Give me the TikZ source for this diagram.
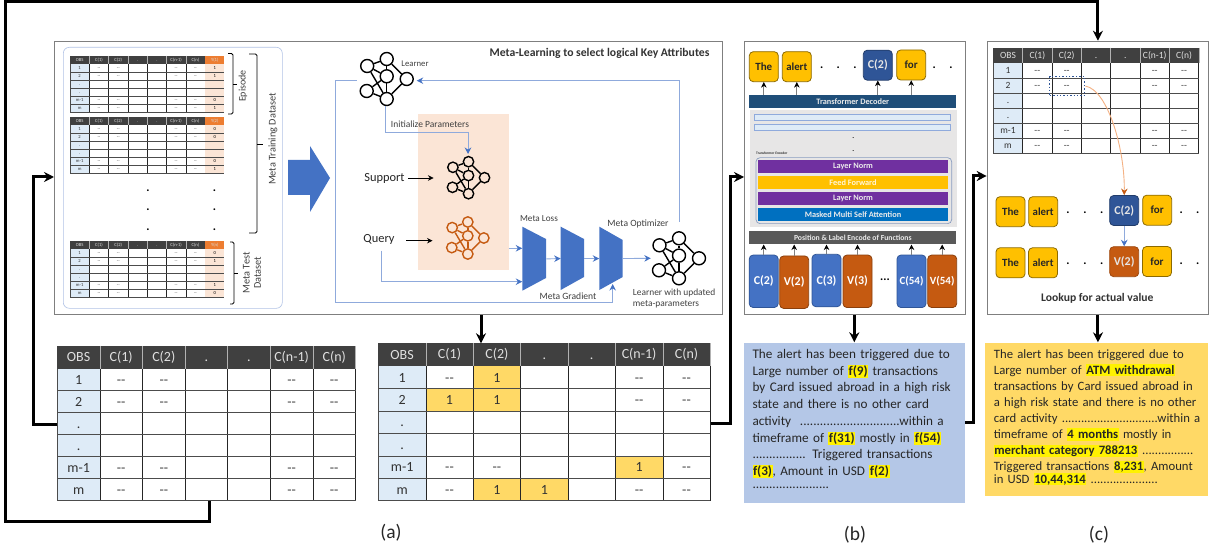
\documentclass[tikz,border=0pt]{standalone}
\usepackage{fontspec}
\setmainfont{Carlito}
\usetikzlibrary{arrows.meta,calc}
\definecolor{hdr}{HTML}{404040}
\definecolor{cellblue}{HTML}{DEEBF7}
\definecolor{cellgold}{HTML}{FFD966}
\definecolor{peach}{HTML}{FBE5D6}
\definecolor{blueA}{HTML}{4472C4}
\definecolor{blueL}{HTML}{8FAADC}
\definecolor{blueD}{HTML}{2F5597}
\definecolor{orangeD}{HTML}{C55A11}
\definecolor{orangeH}{HTML}{ED7D31}
\definecolor{orangeL}{HTML}{F4B183}
\definecolor{wordgold}{HTML}{FFC000}
\definecolor{boxgray}{HTML}{7F7F7F}
\definecolor{decblue}{HTML}{1F4E79}
\definecolor{purp}{HTML}{7030A0}
\definecolor{attn}{HTML}{0070C0}
\definecolor{midgray}{HTML}{595959}
\definecolor{panelgray}{HTML}{E7E6E6}
\definecolor{sumblue}{HTML}{B4C7E7}
\newcommand\fs[1]{\fontsize{#1}{#1}\selectfont}
\newcommand\hl[1]{\smash{\setlength\fboxsep{0.5pt}\colorbox{yellow}{\vphantom{(}\textbf{#1}}}}
\tikzset{
  panel/.style={draw=boxgray,line width=0.9pt,fill=white,inner sep=0pt,anchor=north west},
  flow/.style={line width=3pt,draw=black,-{Stealth[length=10pt,width=10pt]}},
  thin blue/.style={line width=0.9pt,draw=blueL,-{Stealth[length=6.5pt,width=6.5pt,color=blueA]}},
  thin black/.style={line width=0.7pt,draw=black,-{Stealth[length=5.5pt,width=5.5pt]}},
  up arrow/.style={line width=0.8pt,draw=gray,-{Stealth[length=5.5pt,width=5.5pt,color=black]}},
  word/.style={rounded corners=4pt,fill=wordgold,draw=black!45!wordgold,line width=0.8pt,minimum width=29pt,minimum height=30pt,inner sep=0pt,font=\fs{11}\bfseries,text=black!85},
  wordblue/.style={word,fill=blueD,draw=blueD!70!black,text=white!90!black,font=\fs{12}\bfseries},
  wordorange/.style={word,fill=orangeD,draw=orangeD!80!black,text=white!90!black,font=\fs{12}\bfseries},
  tallblue/.style={word,fill=blueA,draw=blueD,minimum height=52.5pt,text=white,font=\fs{12}\bfseries},
  tallorange/.style={word,fill=orangeD,draw=orangeD!70!black,minimum height=52.5pt,text=white,font=\fs{12}\bfseries},
  barbox/.style={inner sep=0pt,text=white!92!black,font=\fs{8.3}\bfseries},
  dotmark/.style={inner sep=0pt,font=\fs{12}\bfseries},
  label/.style={inner sep=0pt,text=black!75},
  body/.style={inner sep=0pt,anchor=north west,align=left,text=black!85},
  hub/.style={circle,draw=#1,line width=1.4pt,inner sep=0pt},
  link/.style={draw=#1,line width=1.4pt},
}
% name x0 y0 colw headh rowh font size, list of gold cells col/row
\newcommand\datatable[8]{%
  \foreach \c/\r in {#8}{\expandafter\gdef\csname hl@#1@\c @\r\endcsname{}}%
  \fill[hdr] (#2,#3) rectangle ++({7*#4},#5);
  \fill[cellblue] (#2,{#3+#5}) rectangle ++(#4,{6*#6});
  \foreach \c/\r in {#8}{\fill[cellgold] ({#2+\c*#4},{#3+#5+(\r-1)*#6}) rectangle ++(#4,#6);}
  \foreach \c in {1,...,7}{\draw[line width=0.6pt,black!85] ({#2+\c*#4},{#3+#5}) -- ++(0,{6*#6});
    \draw[line width=0.5pt,white!70!black] ({#2+\c*#4},#3) -- ++(0,#5);}
  \draw[line width=0.6pt,black!70] (#2,{#3+#5}) -- ++(0,{6*#6});
  \foreach \r in {1,...,6}{\draw[line width=0.8pt,black!70] (#2,{#3+#5+\r*#6}) -- ++({7*#4},0);}
  \foreach \t [count=\i from 0] in {OBS,C(1),C(2),.,.,C(n-1),C(n)}{
    \node[inner sep=0pt,text=white!88!black,font=\fs{#7}] (#1-h\i) at ({#2+(\i+.5)*#4},{#3+.5*#5}) {\vphantom{C}\t};}
  \foreach \t [count=\i from 1] in {1,2,.,.,m-1,m}{
    \node[inner sep=0pt,text=black!80,font=\fs{#7}] (#1-r\i) at ({#2+.5*#4},{#3+#5+(\i-.5)*#6}) {\vphantom{1}\t};}
  \foreach \r in {1,2,5,6}{\foreach \c in {1,2,5,6}{
    \ifcsname hl@#1@\c @\r\endcsname\else
    \node[inner sep=0pt,text=black!75,font=\fs{#7}] (#1-d\c-\r) at ({#2+(\c+.5)*#4},{#3+#5+(\r-.5)*#6}) {\vphantom{1}-{}-};\fi}}
  \foreach \c/\r in {#8}{
    \node[inner sep=0pt,text=black!80,font=\fs{#7}] (#1-g\c-\r) at ({#2+(\c+.5)*#4},{#3+#5+(\r-.5)*#6}) {1};}
  \node[inner sep=0pt,minimum width={7*#4},minimum height={#5+6*#6},anchor=north west] (#1) at (#2,#3) {};
}
% name x0 y0 ylabel v1 v2 v5 v6
\newcommand\minitable[8]{%
  \datatable{#1}{#2}{#3}{19.3}{8.3}{8.0}{4.6}{}
  \fill[orangeH] ({#2+7*19.3},#3) rectangle ++(19.3,8.3);
  \fill[peach] ({#2+7*19.3},{#3+8.3}) rectangle ++(19.3,48);
  \foreach \r in {1,...,6}{\draw[line width=0.7pt,black!70] ({#2+7*19.3},{#3+8.3+\r*8}) -- ++(19.3,0);}
  \node[inner sep=0pt,text=white!85!black,font=\fs{4.6}] (#1-y) at ({#2+7.5*19.3},{#3+4.15}) {#4};
  \node[inner sep=0pt,font=\fs{4.6}] (#1-y1) at ({#2+7.5*19.3},{#3+8.3+4}) {#5};
  \node[inner sep=0pt,font=\fs{4.6}] (#1-y2) at ({#2+7.5*19.3},{#3+8.3+12}) {#6};
  \node[inner sep=0pt,font=\fs{4.6}] (#1-y5) at ({#2+7.5*19.3},{#3+8.3+36}) {#7};
  \node[inner sep=0pt,font=\fs{4.6}] (#1-y6) at ({#2+7.5*19.3},{#3+8.3+44}) {#8};
}
% name cx cy scale colour
\newcommand\netw[5]{%
  \foreach \n/\dx/\dy in {a/-18.5/-13,b/1/-20,c/21/0,d/1/-2.7,e/-19/12,f/1/20}{
    \node[hub=#5,minimum size={13*#4}] (#1-\n) at ({#2+\dx*#4},{#3+\dy*#4}) {};}
  \foreach \p/\q in {a/b,b/c,b/d,a/d,a/f,e/d,e/f,d/f,c/f}{\draw[link=#5] (#1-\p) -- (#1-\q);}
  \node[inner sep=0pt,minimum width={54*#4},minimum height={54*#4}] (#1) at (#2,#3) {};
}
% name x0 x1 ytopL ybotL ytopR ybotR
\newcommand\trap[7]{%
  \fill[blueA] (#2,#4) -- (#3,#6) -- (#3,#7) -- (#2,#5) -- cycle;
  \node[inner sep=0pt,minimum width={#3-#2},minimum height={#5-#4},anchor=north west] (#1) at (#2,#4) {};
}
\begin{document}
\begin{tikzpicture}[x=1pt,y=-1pt]
\useasboundingbox (0,0) rectangle (1214,553);
\fill[white] (0,0) rectangle (1214,553);

%% ---- panel (a)
\node[panel,minimum width=668,minimum height=273] (boxA) at (54,41) {};
\node[anchor=north west,inner sep=0pt,minimum width=219,minimum height=261,draw=blueL!70,rounded corners=6pt,line width=0.6pt] (inner) at (63,47) {};
\minitable{m1}{70}{55.7}{Y(1)}{1}{1}{0}{1}
\minitable{m2}{70}{116.7}{Y(2)}{0}{0}{0}{1}
\minitable{m3}{70}{241}{Y(n)}{0}{1}{1}{0}
\foreach \y [count=\i] in {191,210,230}{
  \node[dotmark] (da\i) at (148,\y) {.};
  \node[dotmark] (db\i) at (214.5,\y) {.};}
\draw[line width=0.9pt,rounded corners=1.5pt] (228,53.5) -- (233,53.5) -- (233,114) -- (228,114);
\draw[line width=0.9pt] (233,84) -- (237,84);
\node[label,rotate=90,font=\fs{10}] (lepi) at (243,86) {Episode};
\draw[line width=0.9pt,rounded corners=1.5pt] (249,54) -- (257,54) -- (257,233) -- (249,233);
\draw[line width=0.9pt] (257,144) -- (263,144);
\node[label,rotate=90,font=\fs{10.3}] (lmtd) at (273,139) {Meta Training Dataset};
\draw[line width=0.9pt,rounded corners=1.5pt] (230,242) -- (234,242) -- (234,304) -- (230,304);
\draw[line width=0.9pt] (234,273) -- (238,273);
\node[label,rotate=90,font=\fs{10.3},align=center] (lmte) at (252,273) {Meta Test\\[1pt]Dataset};

\fill[blueA] (288,160) -- (310,160) -- (310,146) -- (330,178) -- (310,212) -- (310,195) -- (288,195) -- cycle;

\node[inner sep=0pt,fill=peach,minimum width=90.3,minimum height=155,anchor=north west] (peachbox) at (418,114.3) {};
\node[inner sep=0pt,font=\fs{11.7}\bfseries,text=black!80] (title) at (599.5,53) {Meta-Learning to select logical Key Attributes};
\netw{learner}{385.7}{79}{1}{black}
\netw{support}{467.7}{177.7}{0.8}{black}
\netw{query}{467}{238}{0.8}{orangeD}
\netw{final}{678}{258.3}{1}{black}
\node[label,font=\fs{8.7}] (llearn) at (415,64) {Learner};
\node[label,font=\fs{9.5}] (linit) at (430,124) {Initialize Parameters};
\node[label,font=\fs{12.4},text=black!85] (lsup) at (384.5,178) {Support};
\node[label,font=\fs{12.4},text=black!85] (lqry) at (379,239) {Query};
\coordinate (supend) at (433.5,178);
\coordinate (qryend) at (432.5,240.7);
\draw[thin black] (408.3,178) -- (supend);
\draw[thin black] (406,240.7) -- (qryend);
\trap{t1}{522.3}{546}{226.7}{290.7}{239}{278}
\trap{t2}{560.7}{584}{226.7}{290}{239}{277}
\trap{t3}{599.3}{622.7}{226.7}{290}{240}{277}
\node[label,font=\fs{9.2}] (lloss) at (539,219) {Meta Loss};
\node[label,font=\fs{9.6}] (lopt) at (638,224) {Meta Optimizer};
\node[label,font=\fs{9.6}] (lgrad) at (568,296.5) {Meta Gradient};
\node[label,font=\fs{9.4},align=left,anchor=west] (lupd) at (632.7,298.8) {Learner with updated\\[1.5pt]meta-parameters};
% blue connectors
\coordinate (lowL) at (335.7,302.7);
\coordinate (t3in) at (612.7,284);
\draw[thin blue] (356.7,80.7) -- (lowL |- 0,80.7) -- (lowL) -- (t3in |- lowL) -- (t3in);
\draw[thin blue] (679.3,221.7) -- (679.3,80.7) -- (416.7,80.7);
\draw[thin blue] (learner.south) -- (385.7,132) -- (468,132) -- (468,154);
\draw[thin blue] (peachbox.east |- 0,248.3) -- (t1.west |- 0,248.3);
\draw[thin blue] (381.7,250.7) -- (381.7,281.7) -- (t1.west |- 0,281.7);
\draw[thin blue] (t1.east) -- (t2.west);
\draw[thin blue] (t2.east) -- (t3.west);
\draw[thin blue] (t3.east) -- (final.west);

\datatable{tA}{57.3}{346}{42.6}{22.7}{22}{14}{}
\datatable{tB}{378.4}{343.3}{47.4}{23}{22.4}{14}{2/1,1/2,2/2,5/5,2/6,3/6}
\node[font=\fs{19.5},inner sep=0pt,text=black!85] (capa) at (391,533) {(a)};

%% ---- panel (b)
\node[panel,minimum width=221,minimum height=273.6] (boxB) at (744,40.7) {};
\node[word] (w1) at (763.8,66.7) {The};
\node[word,font=\fs{10.8}\bfseries] (w2) at (796.8,66.7) {alert};
\node[wordblue] (w3) at (877.8,65.2) {C(2)};
\node[word] (w4) at (911.2,65) {for};
\foreach \x [count=\i] in {821.7,838.3,855,934.3,951}{\node[dotmark] (wd\i) at (\x,67.5) {.};}
\node[barbox,fill=decblue,minimum width=207,minimum height=12.7] (dec) at (852.8,101.4) {Transformer Decoder};
\node[inner sep=0pt,fill=panelgray,minimum width=207,minimum height=116.7,anchor=north west] (graybox) at (749.3,110) {};
\node[inner sep=0pt,fill=cellblue,draw=blueL,line width=0.6pt,minimum width=196.4,minimum height=6.3] (lr1) at (852.5,117.5) {};
\node[inner sep=0pt,fill=cellblue,draw=blueL,line width=0.6pt,minimum width=196.4,minimum height=6] (lr2) at (852.5,127.7) {};
\node[dotmark,font=\fs{7}\bfseries] (gd1) at (853.3,138.3) {.};
\node[dotmark,font=\fs{7}\bfseries] (gd2) at (853.3,150.7) {.};
\node[inner sep=0pt,anchor=west,font=\fs{3.6}\bfseries,text=black!80] (lenc) at (756,153.3) {Transformer Encoder};
\node[inner sep=0pt,draw=blueL!70!gray,line width=0.7pt,rounded corners=4pt,minimum width=195.6,minimum height=66,anchor=north west] (encbox) at (755.7,157.3) {};
\node[barbox,fill=purp,minimum width=190.6,minimum height=12.7] (e1) at (853,166.3) {Layer Norm};
\node[barbox,fill=wordgold,text=white!85!wordgold,minimum width=190.6,minimum height=13] (e2) at (853,182.5) {Feed Forward};
\node[barbox,fill=purp,minimum width=190.6,minimum height=12.7] (e3) at (853,198.3) {Layer Norm};
\node[barbox,fill=attn,minimum width=190.6,minimum height=12.7] (e4) at (853,214.3) {Masked Multi Self Attention};
\node[barbox,fill=midgray,font=\fs{7.7}\bfseries,minimum width=207,minimum height=13.3] (pos) at (852.8,237.7) {Position \& Label Encode of Functions};
\node[tallblue] (b1) at (763.7,281.3) {C(2)};
\node[tallorange] (b2) at (794.2,282.2) {V(2)};
\node[tallblue] (b3) at (826.5,280.5) {C(3)};
\node[tallorange] (b4) at (857.5,281.3) {V(3)};
\node[inner sep=0pt,font=\fs{12}\bfseries] (bdots) at (885,280) {...};
\node[tallblue,font=\fs{11}\bfseries] (b5) at (911.5,281.3) {C(54)};
\node[tallorange,font=\fs{11}\bfseries] (b6) at (942.2,281.3) {V(54)};
\foreach \w in {w1,w2,w3,w4}{\draw[up arrow] (dec.north -| \w.south) -- (\w.south);}
\foreach \w in {b1,b2,b3,b4,b5,b6}{\draw[up arrow] (\w.north) -- (\w.north |- pos.south);}

\node[inner sep=0pt,fill=sumblue,minimum width=221.3,minimum height=160.4,anchor=north west] (textB) at (743.7,342.3) {};
\node[body,font=\fs{13.2},text width=240] (textBbody) at (752.3,349) {\baselineskip=16.75pt\lineskiplimit=-100pt
The alert has been triggered due to\\
Large number of \hl{f(9)} transactions\\
by Card issued abroad in a high risk\\
state and there is no other card\\
activity\ \ ..............................within a\\
timeframe of \hl{f(31)} mostly in \hl{f(54)}\\
................ Triggered transactions\\
\hl{f(3)}, Amount in USD \hl{f(2)}\\
.......................};
\node[font=\fs{19.5},inner sep=0pt,text=black!85] (capb) at (855,535) {(b)};

%% ---- panel (c)
\node[panel,minimum width=221.6,minimum height=273.6] (boxC) at (986.7,40.7) {};
\datatable{tC}{993.3}{47.7}{29.35}{15.3}{15}{9.5}{}
\node[inner sep=0pt,draw=blueD,line width=1.4pt,dotted,minimum width=35,minimum height=18.7,anchor=north west] (pick) at (1049,76) {};
\node[word] (x1) at (1010.5,211.7) {The};
\node[word,font=\fs{10.8}\bfseries] (x2) at (1043.2,211.7) {alert};
\node[wordblue] (x3) at (1124.2,210.5) {C(2)};
\node[word] (x4) at (1157.2,210.2) {for};
\node[word] (y1) at (1010.5,262.8) {The};
\node[word,font=\fs{10.8}\bfseries] (y2) at (1043,262.8) {alert};
\node[wordorange] (y3) at (1124.2,261.7) {V(2)};
\node[word] (y4) at (1157,261.5) {for};
\foreach \x [count=\i] in {1068,1085,1101.7,1181.3,1197.7}{
  \node[dotmark] (xd\i) at (\x,213) {.};
  \node[dotmark] (yd\i) at (\x,264) {.};}
\draw[line width=0.9pt,draw=orangeL,-{Stealth[length=6.5pt,width=6.5pt,color=orangeD]}] (pick.east) .. controls (1108,90) and (1125,150) .. (x3.north);
\draw[thin blue] (x3.south) -- (y3.north);
\node[inner sep=0pt,font=\fs{11.6}\bfseries,text=black!80] (llook) at (1097.3,298.3) {Lookup for actual value};

\node[inner sep=0pt,fill=cellgold,minimum width=222.7,minimum height=153.7,anchor=north west] (textC) at (985,342.3) {};
\node[body,font=\fs{12.7},text width=240] (textCbody) at (993.7,349) {\baselineskip=16.05pt\lineskiplimit=-100pt
The alert has been triggered due to\\
Large number of \hl{ATM withdrawal}\\
transactions by Card issued abroad in\\
a high risk state and there is no other\\
card activity ..............................within a\\
timeframe of \hl{4 months} mostly in\\
\hl{merchant category 788213} ................\\
Triggered transactions \hl{8,231}, Amount\\
in USD \hl{10,44,314} .....................};
\node[font=\fs{19.5},inner sep=0pt,text=black!85] (capc) at (1099,535) {(c)};

%% ---- thick connectors
\coordinate (ax) at (481,0);
\coordinate (lx) at (33,0);
\coordinate (rx) at (730,0);
\coordinate (ox) at (209.9,521.7);
\coordinate (oy) at (5.6,1.5);
\coordinate (arrowy) at (0,177);
\coordinate (rx2) at (973,0);
\draw[flow] (boxA.south -| ax) -- (tB.north -| ax);
\draw[flow] (tA.west |- 0,424) -- (lx |- 0,424) -- (lx |- arrowy) -- (boxA.west |- arrowy);
\draw[flow] (ox |- tA.south) -- (ox) -- (oy |- ox) -- (oy) -- (boxC.north |- oy) -- (boxC.north);
\draw[flow] (tB.east |- 0,423) -- (rx |- 0,423) -- (rx |- arrowy) -- (boxB.west |- arrowy);
\draw[flow] (boxB.south -| 854.3,0) -- (textB.north -| 854.3,0);
\draw[flow] (textB.east |- 0,422.7) -- (rx2 |- 0,422.7) -- (rx2 |- 0,176) -- (boxC.west |- 0,176);
\draw[flow] (boxC.south) -- (boxC.south |- textC.north);
\end{tikzpicture}
\end{document}
